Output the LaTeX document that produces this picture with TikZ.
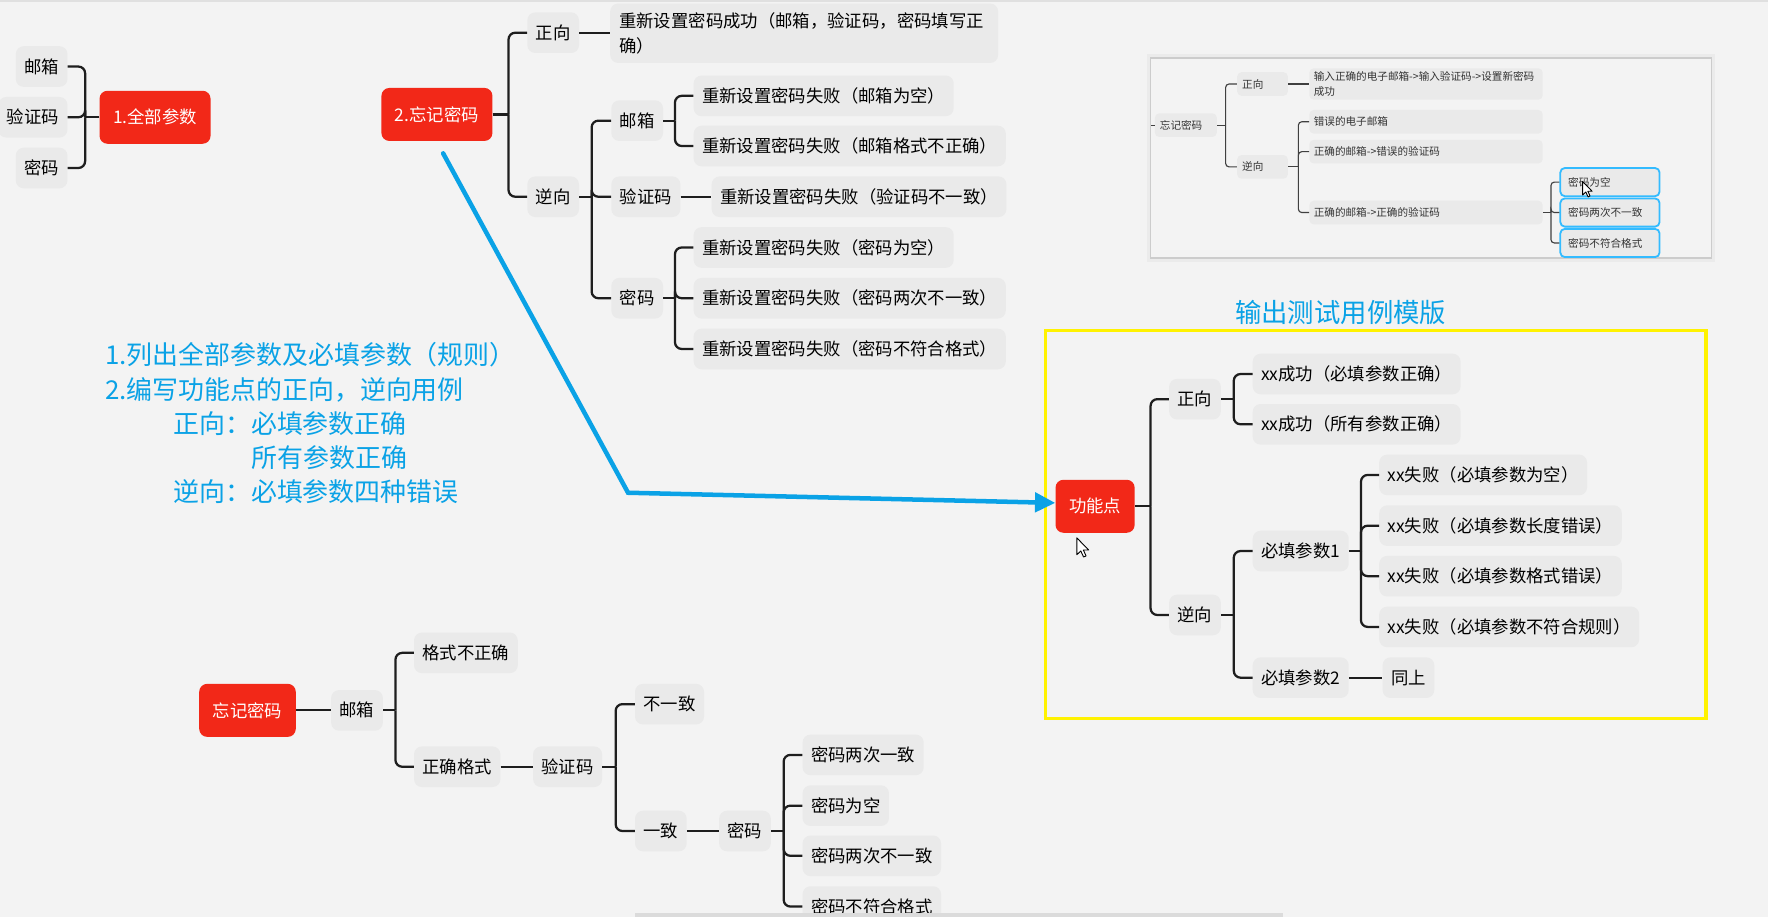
\documentclass[tikz,border=0pt]{standalone}
\usepackage{fontspec}
\setmainfont{Noto Sans CJK SC}
\usetikzlibrary{arrows.meta}
\definecolor{canvas}{HTML}{F3F3F3}
\definecolor{topicgray}{HTML}{EAEAEA}
\definecolor{rootred}{HTML}{F22818}
\definecolor{linkblack}{HTML}{1E1E1E}
\definecolor{noteblue}{HTML}{0AA2E6}
\definecolor{frameyellow}{HTML}{FFF200}
\definecolor{selcyan}{HTML}{33BBFF}
\definecolor{minitext}{HTML}{333333}

\begin{document}
\begin{tikzpicture}[x=1pt, y=-1pt, >={Triangle[length=18pt,width=17pt]},
    root/.style={fill=rootred, text=white, rounded corners=7pt, minimum height=47pt,
      inner xsep=12pt, font=\fontsize{15.4}{18}\selectfont},
    topic/.style={fill=topicgray, text=black, rounded corners=7pt, minimum height=36pt,
      inner xsep=7.5pt, font=\fontsize{15.4}{22}\selectfont, anchor=west},
    link/.style={draw=linkblack, line width=2pt, rounded corners=6pt},
    note/.style={text=noteblue, font=\fontsize{23}{30.4}\selectfont, align=left, inner sep=0pt},
    mini/.style={fill=topicgray, text=minitext, rounded corners=4pt, minimum height=21pt,
      inner xsep=4pt, align=left, font=\fontsize{9.4}{13}\selectfont, anchor=west},
    minisel/.style={mini, draw=selcyan, line width=1.6pt, text width=74pt, inner xsep=7pt,
      minimum height=25pt},
    minilink/.style={draw=linkblack!85, line width=1pt, rounded corners=3pt}]

    % Canvas
    \useasboundingbox (0,0) rectangle (1568,813);
    \clip (0,0) rectangle (1568,813);
    \fill[canvas] (0,0) rectangle (1568,813);
    \draw[black!12, line width=1.5pt] (0,1) -- (1568,1);

    % 1. all parameters
    \node[root] (all) at (137.5,104) {1.全部参数};
    \node[topic, anchor=east] (allmail) at (60,59) {邮箱};
    \node[topic, anchor=east] (allcode) at (60,104) {验证码};
    \node[topic, anchor=east] (allpwd) at (60,149) {密码};
    \coordinate (allfork) at (75.5,104);
    \draw[link] (all.west) -- (allfork);
    \foreach \n in {allmail,allcode,allpwd}
        \draw[link] (allfork) |- (\n.east);

    % 2. forgotten password
    \node[root] (forget) at (387.5,101.5) {2.忘记密码};
    \coordinate (forgetfork) at (451,101.5);
    \node[topic] (fwd) at (467.5,29) {正向};
    \node[topic, text width=328pt, inner xsep=8pt, inner ysep=8pt, align=left] (fwdok) at (541,29.5)
        {重新设置密码成功（邮箱，验证码，密码填写正\\确）};
    \node[topic] (back) at (467.5,174.5) {逆向};
    \coordinate (backfork) at (524.7,174.5);
    \node[topic] (bmail) at (542,107) {邮箱};
    \coordinate (bmailfork) at (598.6,107);
    \node[topic] (bmailnull) at (615,85) {重新设置密码失败（邮箱为空）};
    \node[topic] (bmailfmt) at (615,129.5) {重新设置密码失败（邮箱格式不正确）};
    \node[topic] (bcode) at (542,174.5) {验证码};
    \node[topic] (bcodebad) at (631,174.5) {重新设置密码失败（验证码不一致）};
    \node[topic] (bpwd) at (542,264.5) {密码};
    \coordinate (bpwdfork) at (598.6,264.5);
    \node[topic] (bpwdnull) at (615,219.5) {重新设置密码失败（密码为空）};
    \node[topic] (bpwdtwice) at (615,264.5) {重新设置密码失败（密码两次不一致）};
    \node[topic] (bpwdfmt) at (615,309.5) {重新设置密码失败（密码不符合格式）};

    \draw[link] (forget.east) -- (forgetfork);
    \foreach \n in {fwd,back}
        \draw[link] (forgetfork) |- (\n.west);
    \draw[link] (fwd.east) -- (fwdok.west |- fwd.east);
    \draw[link] (back.east) -- (backfork);
    \foreach \n in {bmail,bcode,bpwd}
        \draw[link] (backfork) |- (\n.west);
    \draw[link] (bmail.east) -- (bmailfork);
    \foreach \n in {bmailnull,bmailfmt}
        \draw[link] (bmailfork) |- (\n.west);
    \draw[link] (bcode.east) -- (bcodebad.west);
    \draw[link] (bpwd.east) -- (bpwdfork);
    \foreach \n in {bpwdnull,bpwdtwice,bpwdfmt}
        \draw[link] (bpwdfork) |- (\n.west);

    % Steps note
    \node[note, anchor=west] (steps) at (93,375.5)
        {1.列出全部参数及必填参数（规则）\\
         2.编写功能点的正向，逆向用例\\
         \hspace*{60.5pt}正向：必填参数正确\\
         \hspace*{129.8pt}所有参数正确\\
         \hspace*{60.5pt}逆向：必填参数四种错误};

    % Bottom tree
    \node[root] (reset) at (219.5,630) {忘记密码};
    \node[topic] (rmail) at (293.5,630) {邮箱};
    \coordinate (rmailfork) at (350.7,630);
    \node[topic] (rbadfmt) at (367,579) {格式不正确};
    \node[topic] (rokfmt) at (367,680) {正确格式};
    \node[topic] (rcode) at (472.6,680) {验证码};
    \coordinate (rcodefork) at (546,680);
    \node[topic] (rdiff) at (563,624.5) {不一致};
    \node[topic] (rsame) at (563,737) {一致};
    \node[topic] (rpwd) at (637.6,737) {密码};
    \coordinate (rpwdfork) at (695,737);
    \node[topic] (rp1) at (711.6,669.5) {密码两次一致};
    \node[topic] (rp2) at (711.6,714.5) {密码为空};
    \node[topic] (rp3) at (711.6,759) {密码两次不一致};
    \node[topic] (rp4) at (711.6,804) {密码不符合格式};

    \draw[link] (reset.east) -- (rmail.west);
    \draw[link] (rmail.east) -- (rmailfork);
    \foreach \n in {rbadfmt,rokfmt}
        \draw[link] (rmailfork) |- (\n.west);
    \draw[link] (rokfmt.east) -- (rcode.west);
    \draw[link] (rcode.east) -- (rcodefork);
    \foreach \n in {rdiff,rsame}
        \draw[link] (rcodefork) |- (\n.west);
    \draw[link] (rsame.east) -- (rpwd.west);
    \draw[link] (rpwd.east) -- (rpwdfork);
    \foreach \n in {rp1,rp2,rp3,rp4}
        \draw[link] (rpwdfork) |- (\n.west);

    % Template in the yellow frame
    \node[note, font=\fontsize{23.4}{28}\selectfont] (tpl) at (1189,277) {输出测试用例模版};
    \draw[frameyellow, line width=3pt] (927,293) rectangle (1513,637);
    \node[root] (feature) at (971.2,449) {功能点};
    \coordinate (featfork) at (1020.4,449);
    \node[topic] (ffwd) at (1036.7,354) {正向};
    \coordinate (ffwdfork) at (1094.2,354);
    \node[topic] (fok1) at (1110.8,331.7) {xx成功（必填参数正确）};
    \node[topic] (fok2) at (1110.8,376.3) {xx成功（所有参数正确）};
    \node[topic] (fback) at (1036.7,545.4) {逆向};
    \coordinate (fbackfork) at (1094.2,545.4);
    \node[topic] (freq1) at (1110.8,488.7) {必填参数1};
    \coordinate (freq1fork) at (1207,488.7);
    \node[topic] (ferr1) at (1223,421.2) {xx失败（必填参数为空）};
    \node[topic] (ferr2) at (1223,466.2) {xx失败（必填参数长度错误）};
    \node[topic] (ferr3) at (1223,511) {xx失败（必填参数格式错误）};
    \node[topic] (ferr4) at (1223,556) {xx失败（必填参数不符合规则）};
    \node[topic] (freq2) at (1110.8,601) {必填参数2};
    \node[topic] (fsame) at (1226,601) {同上};

    \draw[link] (feature.east) -- (featfork);
    \foreach \n in {ffwd,fback}
        \draw[link] (featfork) |- (\n.west);
    \draw[link] (ffwd.east) -- (ffwdfork);
    \foreach \n in {fok1,fok2}
        \draw[link] (ffwdfork) |- (\n.west);
    \draw[link] (fback.east) -- (fbackfork);
    \foreach \n in {freq1,freq2}
        \draw[link] (fbackfork) |- (\n.west);
    \draw[link] (freq1.east) -- (freq1fork);
    \foreach \n in {ferr1,ferr2,ferr3,ferr4}
        \draw[link] (freq1fork) |- (\n.west);
    \draw[link] (freq2.east) -- (fsame.west);

    % Blue arrow to the template
    \coordinate (arrowstart) at (393,136);
    \coordinate (arrowbend) at (557,437);
    \draw[->, noteblue, line width=4pt, line cap=round] (arrowstart) -- (arrowbend) -- ([yshift=3pt]feature.west);

    % Screenshot inset (top right)
    \fill[black!8] (1017,48) rectangle (1521,232);
    \fill[black!20] (1019.5,50.5) rectangle (1518.5,229.5);
    \fill[canvas] (1021,52) rectangle (1517,228);
    \node[mini, text width=46pt, inner xsep=4.5pt] (mroot) at (1024,111) {忘记密码};
    \coordinate (mleft) at (1021,111);
    \coordinate (mrootfork) at (1087,111);
    \node[mini, text width=36pt, inner xsep=4.5pt] (mfwd) at (1097,74.5) {正向};
    \node[mini, text width=199pt, inner ysep=3pt] (mfwdok) at (1161,74.5)
        {输入正确的电子邮箱->输入验证码->设置新密码\\成功};
    \node[mini, text width=36pt, inner xsep=4.5pt] (mback) at (1097,148) {逆向};
    \coordinate (mbackfork) at (1151.5,148);
    \node[mini, text width=199pt] (mbad1) at (1161,108) {错误的电子邮箱};
    \node[mini, text width=199pt] (mbad2) at (1161,134.5) {正确的邮箱->错误的验证码};
    \node[mini, text width=199pt] (mok) at (1161,188.5) {正确的邮箱->正确的验证码};
    \coordinate (mokfork) at (1375.5,188.5);
    \node[minisel] (msel1) at (1383,161.5) {密码为空};
    \node[minisel] (msel2) at (1383,188.5) {密码两次不一致};
    \node[minisel] (msel3) at (1383,215.5) {密码不符合格式};

    \draw[minilink] (mleft) -- (mroot.west);
    \draw[minilink] (mroot.east) -- (mrootfork);
    \foreach \n in {mfwd,mback}
        \draw[minilink] (mrootfork) |- (\n.west);
    \draw[minilink] (mfwd.east) -- (mfwdok.west);
    \draw[minilink] (mback.east) -- (mbackfork);
    \foreach \n in {mbad1,mbad2,mok}
        \draw[minilink] (mbackfork) |- (\n.west);
    \draw[minilink] (mok.east) -- (mokfork);
    \foreach \n in {msel1,msel2,msel3}
        \draw[minilink] (mokfork) |- (\n.west);

    % Mouse pointers
    \begin{scope}[shift={(955,477)}]
        \draw[fill=white, line width=0.8pt, line join=round]
            (0,0) -- (0,15) -- (3.5,11.6) -- (6,17) -- (8.2,16) -- (5.8,10.8) -- (10.5,10.8) -- cycle;
    \end{scope}
    \begin{scope}[shift={(1403.6,161)}, scale=0.8]
        \draw[fill=white, line width=0.8pt, line join=round]
            (0,0) -- (0,15) -- (3.5,11.6) -- (6,17) -- (8.2,16) -- (5.8,10.8) -- (10.5,10.8) -- cycle;
    \end{scope}

    % Scroll bar
    \fill[black!14] (563,810) rectangle (1138,813);
\end{tikzpicture}
\end{document}
